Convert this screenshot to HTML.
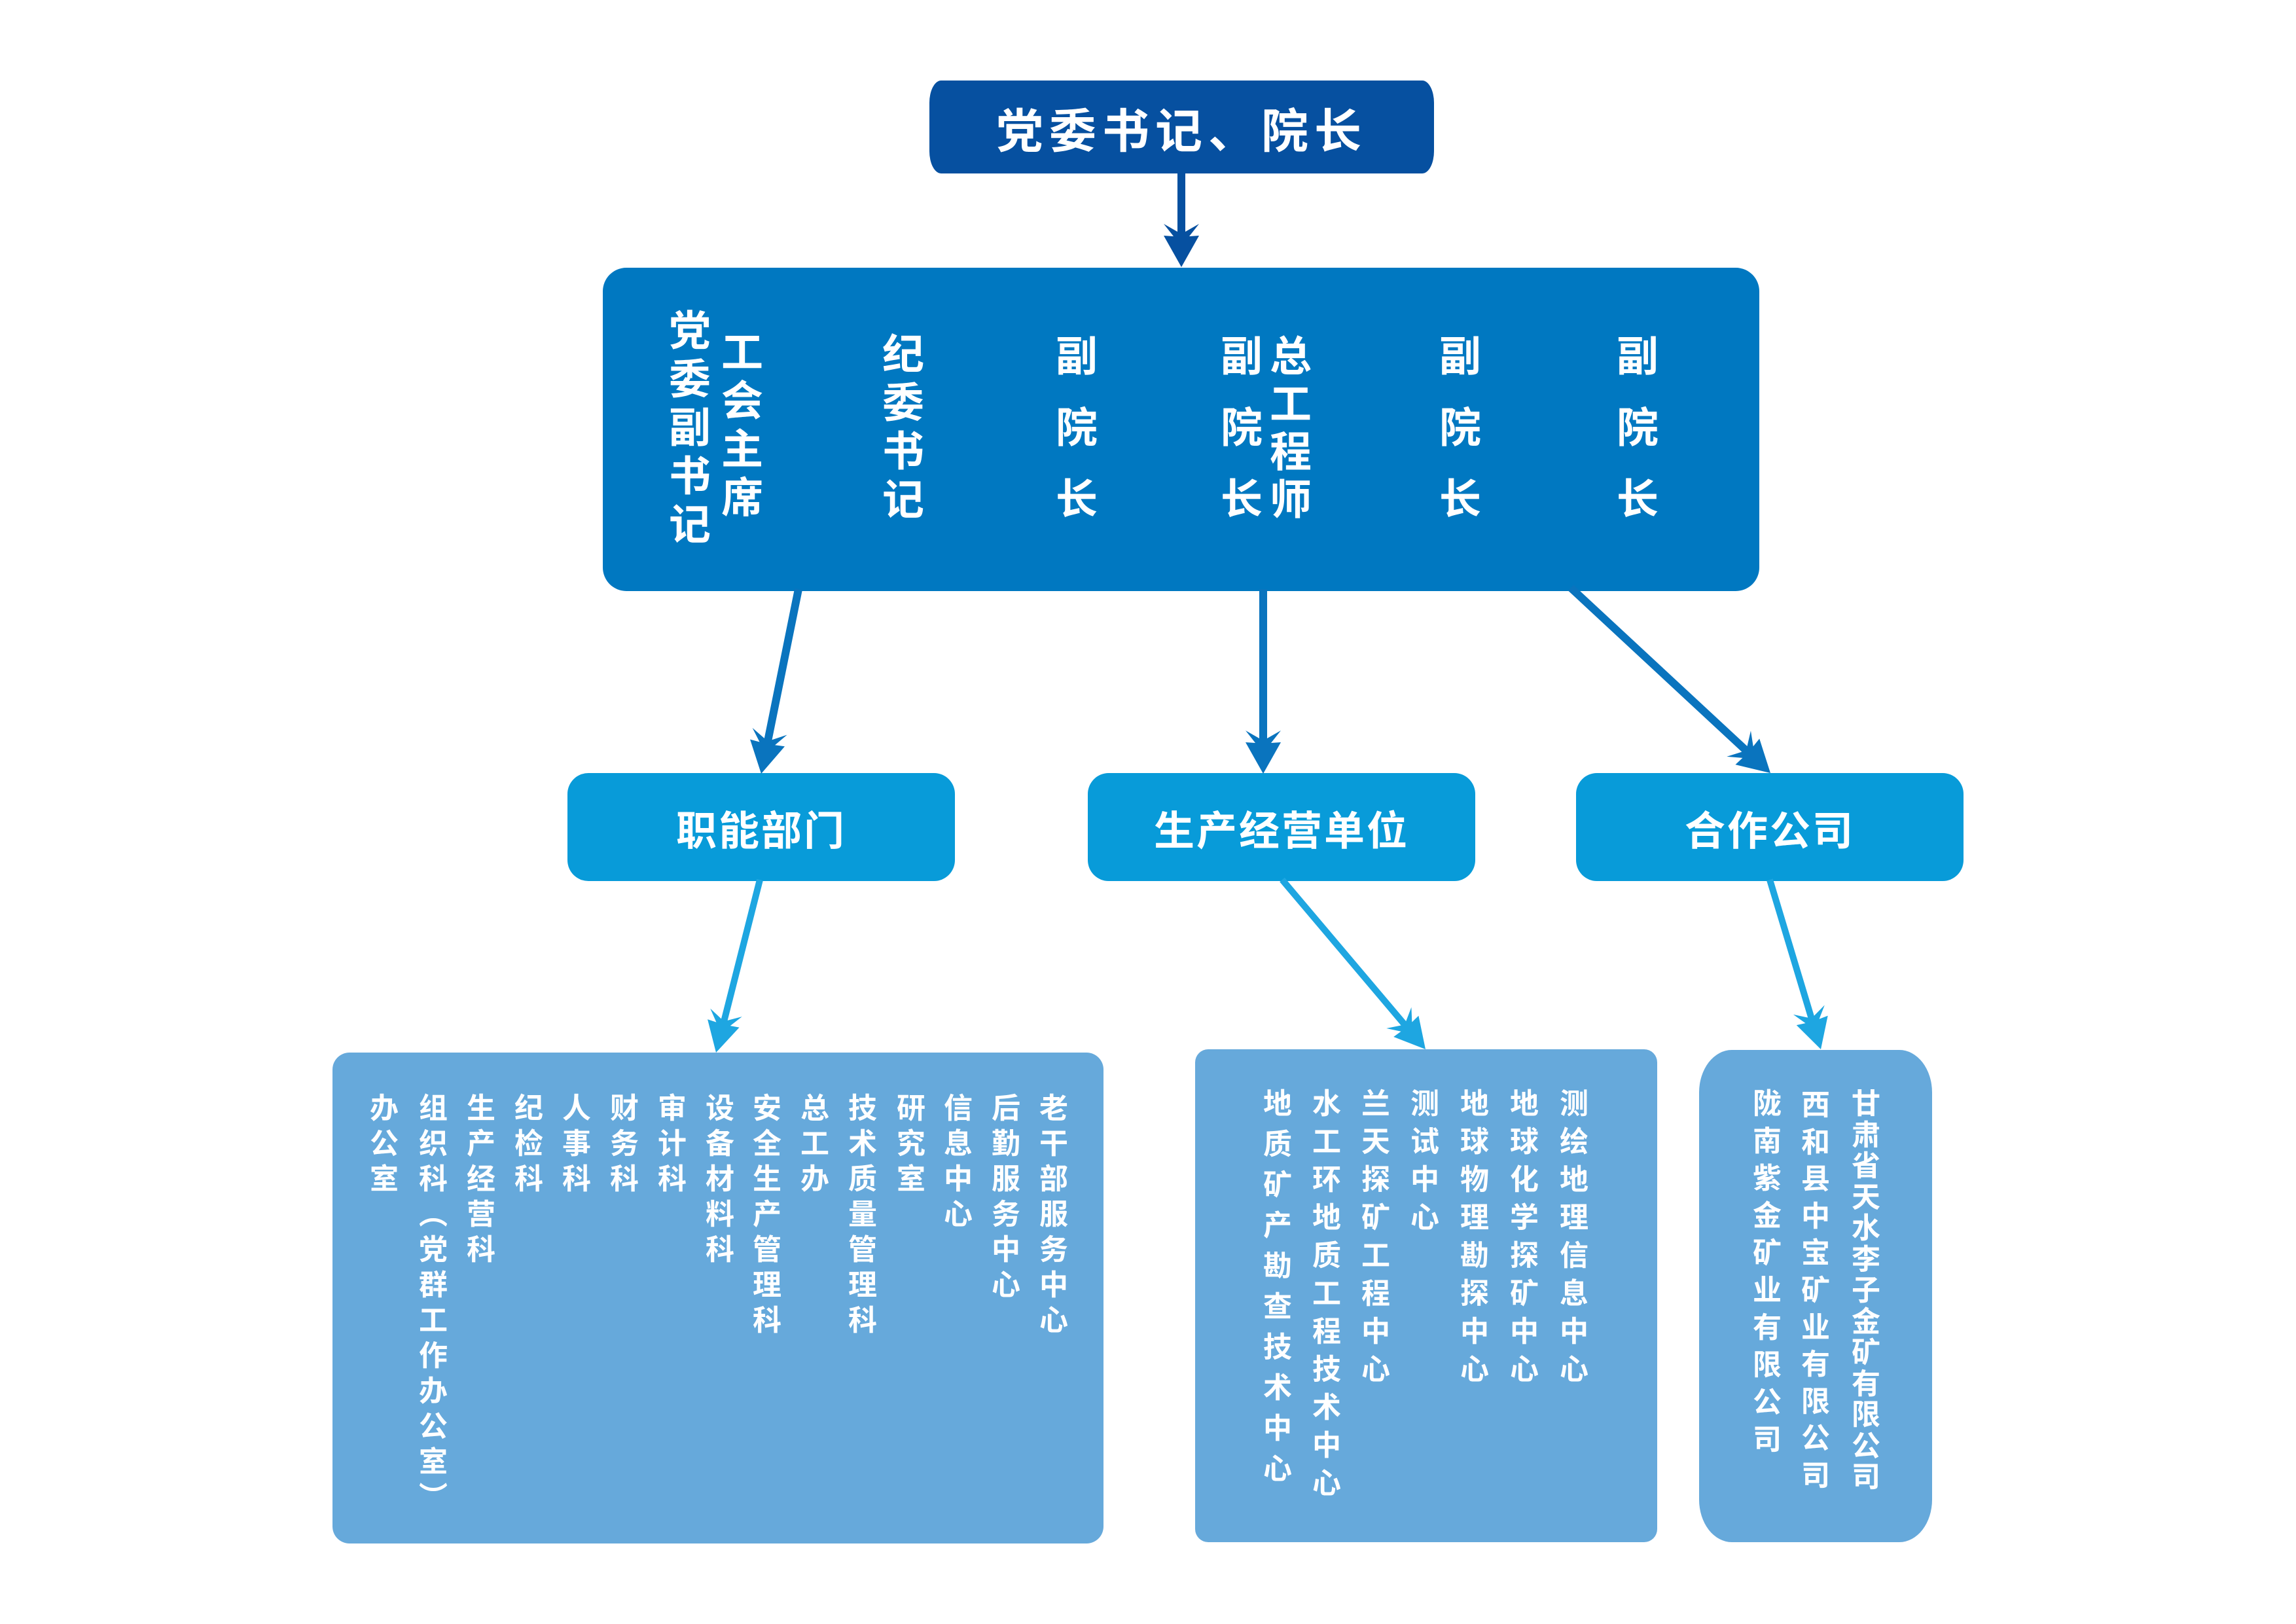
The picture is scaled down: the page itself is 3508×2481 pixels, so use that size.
<!DOCTYPE html>
<html>
<head>
<meta charset="utf-8">
<style>
  html,body{margin:0;padding:0;background:#ffffff;}
  body{width:3508px;height:2481px;position:relative;overflow:hidden;
       font-family:"Liberation Sans","Noto Sans CJK SC","WenQuanYi Zen Hei",sans-serif;}
  svg{position:absolute;left:0;top:0;}
  .c{position:absolute;color:#fff;font-weight:700;text-align:center;width:90px;}
  .big{font-size:64px;}
  .sm{font-size:44px;}
  .box{position:absolute;display:flex;align-items:center;justify-content:center;color:#fff;font-weight:700;white-space:nowrap;}
</style>
</head>
<body>
<svg width="3508" height="2481" viewBox="0 0 3508 2481" xmlns="http://www.w3.org/2000/svg">
  <!-- boxes -->
  <rect x="1420" y="123" width="771" height="142" rx="18" ry="34" fill="#0650a0"/>
  <rect x="921" y="409" width="1767" height="494" rx="36" ry="36" fill="#0078c1"/>
  <rect x="867" y="1181" width="592" height="165" rx="32" ry="32" fill="#089bd9"/>
  <rect x="1662" y="1181" width="592" height="165" rx="32" ry="32" fill="#089bd9"/>
  <rect x="2408" y="1181" width="592" height="165" rx="32" ry="32" fill="#089bd9"/>
  <rect x="508" y="1608" width="1178" height="750" rx="26" ry="26" fill="#66a9db"/>
  <rect x="1826" y="1603" width="706" height="753" rx="20" ry="20" fill="#66a9db"/>
  <rect x="2596" y="1604" width="356" height="752" rx="50" ry="65" fill="#66a9db"/>

  <!-- arrow 1: top -> big -->
  <line x1="1805" y1="260" x2="1805" y2="363" stroke="#0650a0" stroke-width="12"/>
  <polygon transform="translate(1805,408)" points="0,0 -27,-48 -12,-47 -27,-66 -6,-54 6,-54 27,-66 12,-47 27,-48" fill="#0650a0"/>

  <!-- arrows from big box -->
  <line x1="1220" y1="900" x2="1171.9" y2="1137.9" stroke="#0a74be" stroke-width="12"/>
  <polygon transform="translate(1163,1182) rotate(11.43)" points="0,0 -27,-48 -12,-47 -27,-66 -6,-54 6,-54 27,-66 12,-47 27,-48" fill="#0a74be"/>

  <line x1="1930" y1="900" x2="1930" y2="1137" stroke="#0a74be" stroke-width="12"/>
  <polygon transform="translate(1930,1182)" points="0,0 -27,-48 -12,-47 -27,-66 -6,-54 6,-54 27,-66 12,-47 27,-48" fill="#0a74be"/>

  <line x1="2400" y1="898" x2="2672" y2="1150.4" stroke="#0a74be" stroke-width="12"/>
  <polygon transform="translate(2705,1181) rotate(-47.14)" points="0,0 -27,-48 -12,-47 -27,-66 -6,-54 6,-54 27,-66 12,-47 27,-48" fill="#0a74be"/>

  <!-- arrows to bottom boxes -->
  <line x1="1161" y1="1344" x2="1105.1" y2="1564.4" stroke="#1ea6e1" stroke-width="10"/>
  <polygon transform="translate(1094,1608) rotate(14.24)" points="0,0 -25,-46 -11,-45 -25,-63 -5,-52 5,-52 25,-63 11,-45 25,-46" fill="#1ea6e1"/>

  <line x1="1959" y1="1344" x2="2148.9" y2="1568.6" stroke="#1ea6e1" stroke-width="10"/>
  <polygon transform="translate(2178,1603) rotate(-40.22)" points="0,0 -25,-46 -11,-45 -25,-63 -5,-52 5,-52 25,-63 11,-45 25,-46" fill="#1ea6e1"/>

  <line x1="2704" y1="1344" x2="2769" y2="1559.9" stroke="#1ea6e1" stroke-width="10"/>
  <polygon transform="translate(2782,1603) rotate(-16.76)" points="0,0 -25,-46 -11,-45 -25,-63 -5,-52 5,-52 25,-63 11,-45 25,-46" fill="#1ea6e1"/>
</svg>

<!-- top box text -->
<div class="box" style="left:1420px;top:123px;width:771px;height:142px;font-size:72px;letter-spacing:9px;">党委书记、院长</div>

<!-- middle boxes text -->
<div class="box" style="left:867px;top:1181px;width:592px;height:165px;font-size:62px;letter-spacing:3px;">职能部门</div>
<div class="box" style="left:1662px;top:1181px;width:592px;height:165px;font-size:62px;letter-spacing:3px;">生产经营单位</div>
<div class="box" style="left:2408px;top:1181px;width:592px;height:165px;font-size:62px;letter-spacing:3px;">合作公司</div>

<!-- big box columns -->
<div class="c big" style="left:1009px;top:469px;line-height:74px;">党<br>委<br>副<br>书<br>记</div>
<div class="c big" style="left:1089px;top:502px;line-height:74px;">工<br>会<br>主<br>席</div>
<div class="c big" style="left:1335px;top:505px;line-height:74px;">纪<br>委<br>书<br>记</div>
<div class="c big" style="left:1600px;top:491px;line-height:109px;">副<br>院<br>长</div>
<div class="c big" style="left:1852px;top:491px;line-height:109px;">副<br>院<br>长</div>
<div class="c big" style="left:1927px;top:509px;line-height:73px;">总<br>工<br>程<br>师</div>
<div class="c big" style="left:2186px;top:491px;line-height:109px;">副<br>院<br>长</div>
<div class="c big" style="left:2457px;top:491px;line-height:109px;">副<br>院<br>长</div>

<!-- box A columns (line-height 54) -->
<div class="c sm" style="left:542px;top:1667px;line-height:54px;">办<br>公<br>室</div>
<div class="c sm" style="left:617px;top:1667px;line-height:54px;">组<br>织<br>科<br>︵<br>党<br>群<br>工<br>作<br>办<br>公<br>室<br>︶</div>
<div class="c sm" style="left:690px;top:1667px;line-height:54px;">生<br>产<br>经<br>营<br>科</div>
<div class="c sm" style="left:763px;top:1667px;line-height:54px;">纪<br>检<br>科</div>
<div class="c sm" style="left:836px;top:1667px;line-height:54px;">人<br>事<br>科</div>
<div class="c sm" style="left:909px;top:1667px;line-height:54px;">财<br>务<br>科</div>
<div class="c sm" style="left:982px;top:1667px;line-height:54px;">审<br>计<br>科</div>
<div class="c sm" style="left:1055px;top:1667px;line-height:54px;">设<br>备<br>材<br>料<br>科</div>
<div class="c sm" style="left:1127px;top:1667px;line-height:54px;">安<br>全<br>生<br>产<br>管<br>理<br>科</div>
<div class="c sm" style="left:1200px;top:1667px;line-height:54px;">总<br>工<br>办</div>
<div class="c sm" style="left:1273px;top:1667px;line-height:54px;">技<br>术<br>质<br>量<br>管<br>理<br>科</div>
<div class="c sm" style="left:1347px;top:1667px;line-height:54px;">研<br>究<br>室</div>
<div class="c sm" style="left:1419px;top:1667px;line-height:54px;">信<br>息<br>中<br>心</div>
<div class="c sm" style="left:1492px;top:1667px;line-height:54px;">后<br>勤<br>服<br>务<br>中<br>心</div>
<div class="c sm" style="left:1565px;top:1667px;line-height:54px;">老<br>干<br>部<br>服<br>务<br>中<br>心</div>

<!-- box B columns -->
<div class="c sm" style="left:1907px;top:1656px;line-height:62px;">地<br>质<br>矿<br>产<br>勘<br>查<br>技<br>术<br>中<br>心</div>
<div class="c sm" style="left:1982px;top:1658px;line-height:58px;">水<br>工<br>环<br>地<br>质<br>工<br>程<br>技<br>术<br>中<br>心</div>
<div class="c sm" style="left:2057px;top:1658px;line-height:58px;">兰<br>天<br>探<br>矿<br>工<br>程<br>中<br>心</div>
<div class="c sm" style="left:2132px;top:1658px;line-height:58px;">测<br>试<br>中<br>心</div>
<div class="c sm" style="left:2208px;top:1658px;line-height:58px;">地<br>球<br>物<br>理<br>勘<br>探<br>中<br>心</div>
<div class="c sm" style="left:2284px;top:1658px;line-height:58px;">地<br>球<br>化<br>学<br>探<br>矿<br>中<br>心</div>
<div class="c sm" style="left:2360px;top:1658px;line-height:58px;">测<br>绘<br>地<br>理<br>信<br>息<br>中<br>心</div>

<!-- box C columns -->
<div class="c sm" style="left:2655px;top:1658px;line-height:57px;">陇<br>南<br>紫<br>金<br>矿<br>业<br>有<br>限<br>公<br>司</div>
<div class="c sm" style="left:2729px;top:1661px;line-height:56.6px;">西<br>和<br>县<br>中<br>宝<br>矿<br>业<br>有<br>限<br>公<br>司</div>
<div class="c sm" style="left:2806px;top:1663px;line-height:47.5px;">甘<br>肃<br>省<br>天<br>水<br>李<br>子<br>金<br>矿<br>有<br>限<br>公<br>司</div>
</body>
</html>
